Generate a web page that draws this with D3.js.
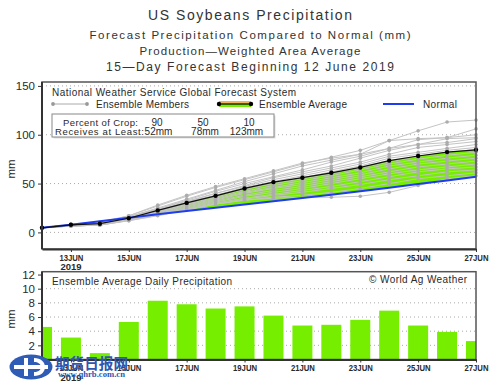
<!DOCTYPE html>
<meta charset="utf-8">
<style>
    html, body { margin:0; padding:0; overflow:hidden; background:#fff; }
    text { font-family: "Liberation Sans", "DejaVu Sans", sans-serif; fill:#2a2a2a; }
    .grid line { stroke:#aaa; stroke-dasharray:1,3; }
    .axis path, .axis line { stroke:#333; }
    .axis text { font-size:11.5px; fill:#2a2a2a; }
    .xaxis text { font-size:9.5px; font-weight:bold; }
</style>
<svg id="mainsvg" width="500" height="389"></svg>
<script src="https://cdnjs.cloudflare.com/ajax/libs/d3/7.8.5/d3.min.js"></script>
<script>

/* -- data -- */

var days = ["2019-06-12","2019-06-13","2019-06-14","2019-06-15","2019-06-16","2019-06-17","2019-06-18","2019-06-19",
            "2019-06-20","2019-06-21","2019-06-22","2019-06-23","2019-06-24","2019-06-25","2019-06-26","2019-06-27"];

var ensembleAvg = [4.7, 7.8, 8.9, 14.5, 22.5, 30.2, 37.4, 45.0, 51.5, 56.0, 61.0, 66.5, 73.5, 78.2, 82.2, 84.5];
var normal      = [4.7, 7.8, 11.3, 15.0, 18.5, 22.0, 25.3, 28.6, 31.9, 35.2, 38.5, 42.1, 45.8, 49.5, 53.2, 57.0];
var dailyAvg    = [4.6, 3.1, 0.9, 5.3, 8.3, 7.8, 7.2, 7.5, 6.2, 4.8, 4.9, 5.6, 6.9, 4.8, 3.9, 2.6];

var members = [
    [4.7, 8.5, 10.5, 17, 27, 37, 46, 54, 62, 70, 77, 84, 94, 104, 113, 115],
    [4.7, 8.0, 10.0, 17, 28, 38, 47, 55, 63, 71, 76, 80, 86, 95, 97, 106],
    [4.7, 8.0, 10.0, 16, 25, 34, 43, 52, 60, 68, 74, 80, 94, 96, 97, 100],
    [4.7, 7.5, 9.5, 16, 24, 33, 42, 50, 57, 64, 72, 78, 86, 90, 96, 97],
    [4.7, 8.0, 9.0, 15.5, 24, 32, 40, 48, 56, 62, 68, 76, 84, 90, 92, 96],
    [4.7, 7.5, 9.0, 15, 23, 31, 40, 47, 54, 60, 66, 72, 80, 87, 90, 93],
    [4.7, 7.5, 9.0, 15, 22, 31, 38, 46, 52, 58, 64, 70, 78, 82, 86, 90],
    [4.7, 7.0, 8.5, 14, 22, 30, 38, 45, 51, 56, 62, 68, 76, 80, 84, 87],
    [4.7, 7.0, 8.5, 14, 21, 29, 36, 44, 50, 55, 60, 66, 72, 78, 82, 85],
    [4.7, 7.0, 8.5, 14, 21, 29, 35, 42, 48, 53, 58, 64, 70, 75, 79, 82],
    [4.7, 7.0, 8.0, 13.5, 20, 28, 34, 41, 46, 51, 56, 61, 68, 72, 76, 79],
    [4.7, 7.0, 8.0, 13, 20, 27, 33, 40, 45, 49, 54, 59, 65, 70, 73, 76],
    [4.7, 6.5, 8.0, 13, 19, 26, 32, 38, 43, 47, 52, 57, 62, 67, 70, 73],
    [4.7, 6.5, 7.5, 13, 19, 25, 31, 37, 41, 45, 50, 55, 60, 64, 67, 70],
    [4.7, 6.5, 7.5, 12.5, 18, 24, 30, 35, 39, 43, 47, 52, 57, 62, 65, 67],
    [4.7, 6.5, 7.5, 12.5, 18, 24, 29, 34, 38, 41, 45, 49, 54, 58, 62, 64],
    [4.7, 6.5, 7.5, 12, 17.5, 23, 29, 33, 36, 38, 41, 45, 50, 55, 58, 61],
    [4.7, 6.5, 7.5, 12, 17, 23, 29, 33, 35, 36, 36, 37, 41, 48, 55, 58]
];

var topTicks = [0, 50, 100, 150];
var botTicks = [0, 2, 4, 6, 8, 10, 12];
var xTickDays = ["2019-06-13","2019-06-15","2019-06-17","2019-06-19","2019-06-21","2019-06-23","2019-06-25","2019-06-27"];

var titleLines = ["US Soybeans Precipitation",
                  "Forecast Precipitation Compared to Normal (mm)",
                  "Production\u2014Weighted Area Average",
                  "15\u2014Day Forecast Beginning 12 June 2019"];

var cropPct  = ["90", "50", "10"];
var cropRecv = ["52mm", "78mm", "123mm"];

/* -- */

var green = "#76ee00";
var parse = d3.timeParse("%Y-%m-%d");
var dates = days.map(parse);

var svg = d3.select("#mainsvg");

var x = d3.scaleTime()
            .domain([dates[0], dates[dates.length-1]])
            .range([42, 476]);

var yTop = d3.scaleLinear().domain([-17, 154]).range([249, 82]);
var yBot = d3.scaleLinear().domain([0, 12.4]).range([359.5, 271.7]);

function fmtDay(d) { return d3.timeFormat("%d")(d) + "JUN"; }

// titles
var titleY = [20, 39, 55, 71];
var titleW = [204, 321, 221, 288];
var titleS = [14, 11.5, 11.5, 12];
titleLines.forEach(function(t, i) {
    svg.append("text")
        .attr("x", 250 - titleW[i]/2)
        .attr("y", titleY[i])
        .attr("textLength", titleW[i])
        .attr("lengthAdjust", "spacing")
        .style("font-size", titleS[i] + "px")
        .style("fill", "#333")
        .text(t);
});

/* ---- top panel ---- */

var topG = svg.append("g");

topG.append("g").attr("class", "grid")
    .selectAll("line").data(topTicks).enter().append("line")
    .attr("x1", 42).attr("x2", 476)
    .attr("y1", function(d) { return yTop(d); })
    .attr("y2", function(d) { return yTop(d); });

// green area between normal and ensemble average
var area = d3.area()
            .x(function(d, i) { return x(dates[i]); })
            .y0(function(d, i) { return yTop(normal[i]); })
            .y1(function(d, i) { return yTop(Math.max(d, normal[i])); });

topG.append("path")
    .datum(ensembleAvg)
    .attr("d", area)
    .attr("fill", green);

var line = d3.line()
            .x(function(d, i) { return x(dates[i]); })
            .y(function(d) { return yTop(d); });

// ensemble members
var mem = topG.selectAll("g.member").data(members).enter().append("g").attr("class", "member");
mem.append("path")
    .attr("d", line)
    .attr("fill", "none")
    .attr("stroke", "#c4c4c4")
    .attr("stroke-width", 1);
mem.selectAll("circle").data(function(d) { return d; }).enter().append("circle")
    .attr("cx", function(d, i) { return x(dates[i]); })
    .attr("cy", function(d) { return yTop(d); })
    .attr("r", 1.8)
    .attr("fill", "#acacac");

// normal
topG.append("path")
    .datum(normal)
    .attr("d", line)
    .attr("fill", "none")
    .attr("stroke", "#1f3cf0")
    .attr("stroke-width", 2);

// ensemble average
topG.append("path")
    .datum(ensembleAvg)
    .attr("d", line)
    .attr("fill", "none")
    .attr("stroke", "#111")
    .attr("stroke-width", 1.2);
topG.selectAll("circle.avg").data(ensembleAvg).enter().append("circle")
    .attr("class", "avg")
    .attr("cx", function(d, i) { return x(dates[i]); })
    .attr("cy", function(d) { return yTop(d); })
    .attr("r", 2.2)
    .attr("fill", "#000");

// frame + axes
topG.append("rect")
    .attr("x", 42).attr("y", 82).attr("width", 434).attr("height", 167)
    .attr("fill", "none").attr("stroke", "#555").attr("stroke-width", 1.5);

var yAxisTop = d3.axisLeft(yTop).tickValues(topTicks).tickSize(4).tickSizeOuter(0);
topG.append("g").attr("class", "axis")
    .attr("transform", "translate(42,0)")
    .call(yAxisTop)
    .call(function(g) { g.select(".domain").attr("stroke-width", 2).attr("d", "M0,82V249"); });

var xAxisTop = d3.axisBottom(x).tickValues(xTickDays.map(parse)).tickFormat(fmtDay).tickSize(3).tickSizeOuter(0);
topG.append("g").attr("class", "axis xaxis")
    .attr("transform", "translate(0,249)")
    .call(xAxisTop)
    .call(function(g) {
        g.select(".domain").attr("stroke-width", 2);
        g.selectAll(".tick text").attr("dy", "0.62em").attr("textLength", 24).attr("lengthAdjust", "spacingAndGlyphs");
    });

topG.append("text").attr("x", 71).attr("y", 270).attr("text-anchor", "middle")
    .style("font-size", "9.5px").style("font-weight", "bold").text("2019");

topG.append("text")
    .attr("transform", "translate(15,169) rotate(-90)")
    .attr("text-anchor", "middle")
    .style("font-size", "11.5px")
    .text("mm");

// legend
function legText(t, x0, y0, w, sz) {
    return svg.append("text").attr("x", x0).attr("y", y0)
        .attr("textLength", w).attr("lengthAdjust", "spacing")
        .style("font-size", sz + "px").text(t);
}

legText("National Weather Service Global Forecast System", 52, 95.5, 244, 10);

svg.append("line").attr("x1", 53).attr("x2", 87).attr("y1", 104).attr("y2", 104)
    .attr("stroke", "#aaa");
[53, 87].forEach(function(cx) {
    svg.append("circle").attr("cx", cx).attr("cy", 104).attr("r", 1.9).attr("fill", "#999");
});
legText("Ensemble Members", 96, 108, 93, 10);

svg.append("rect").attr("x", 219).attr("y", 101).attr("width", 32).attr("height", 3).attr("fill", "#f2b35e");
svg.append("rect").attr("x", 219).attr("y", 104).attr("width", 32).attr("height", 3).attr("fill", green);
svg.append("line").attr("x1", 219).attr("x2", 251).attr("y1", 104).attr("y2", 104)
    .attr("stroke", "#000").attr("stroke-width", 1.2);
[219, 251].forEach(function(cx) {
    svg.append("circle").attr("cx", cx).attr("cy", 104).attr("r", 2.2).attr("fill", "#000");
});
legText("Ensemble Average", 259, 108, 88, 10);

svg.append("line").attr("x1", 383).attr("x2", 414).attr("y1", 104).attr("y2", 104)
    .attr("stroke", "#1f3cf0").attr("stroke-width", 2);
legText("Normal", 423, 108, 34, 10);

// crop box
svg.append("rect").attr("x", 53.5).attr("y", 115.5).attr("width", 222).attr("height", 23)
    .attr("fill", "#ddd");
svg.append("rect").attr("x", 52).attr("y", 114).attr("width", 222).attr("height", 23)
    .attr("fill", "#fff").attr("stroke", "#888").attr("stroke-width", 1);

legText("Percent of Crop:", 63, 125.5, 75, 9.5);
legText("Receives at Least:", 55, 134.5, 89, 9.5);
var pctX = [157, 203, 249];
var recX = [158.5, 205, 246.5];
svg.selectAll("text.pct").data(cropPct).enter().append("text")
    .attr("class", "pct")
    .attr("x", function(d, i) { return pctX[i]; }).attr("y", 125.5)
    .attr("text-anchor", "middle").style("font-size", "10px")
    .text(function(d) { return d; });
svg.selectAll("text.rec").data(cropRecv).enter().append("text")
    .attr("class", "rec")
    .attr("x", function(d, i) { return recX[i]; }).attr("y", 134.5)
    .attr("text-anchor", "middle").style("font-size", "10px")
    .text(function(d) { return d; });

/* ---- bottom panel ---- */

var botG = svg.append("g");

svg.append("clipPath").attr("id", "botclip")
    .append("rect").attr("x", 42).attr("y", 271.7).attr("width", 434).attr("height", 87.8);

botG.append("g").attr("class", "grid")
    .selectAll("line").data(botTicks.slice(1, 6)).enter().append("line")
    .attr("x1", 42).attr("x2", 476)
    .attr("y1", function(d) { return yBot(d); })
    .attr("y2", function(d) { return yBot(d); });

var barW = 20;
botG.append("g").attr("clip-path", "url(#botclip)")
    .selectAll("rect").data(dailyAvg).enter().append("rect")
    .attr("x", function(d, i) { return x(dates[i]) - barW/2; })
    .attr("y", function(d) { return yBot(d); })
    .attr("width", barW)
    .attr("height", function(d) { return yBot(0) - yBot(d); })
    .attr("fill", green);

botG.append("rect")
    .attr("x", 42).attr("y", 271.7).attr("width", 434).attr("height", 87.8)
    .attr("fill", "none").attr("stroke", "#555").attr("stroke-width", 1.5);

var yAxisBot = d3.axisLeft(yBot).tickValues(botTicks).tickSize(4).tickSizeOuter(0);
botG.append("g").attr("class", "axis")
    .attr("transform", "translate(42,0)")
    .call(yAxisBot)
    .call(function(g) { g.select(".domain").attr("stroke-width", 2).attr("d", "M0,271.7V359.5"); });

var xAxisBot = d3.axisBottom(x).tickValues(xTickDays.map(parse)).tickFormat(fmtDay).tickSize(3).tickSizeOuter(0);
botG.append("g").attr("class", "axis xaxis")
    .attr("transform", "translate(0,359.5)")
    .call(xAxisBot)
    .call(function(g) {
        g.select(".domain").attr("stroke-width", 2);
        g.selectAll(".tick text").attr("dy", "0.62em").attr("textLength", 24).attr("lengthAdjust", "spacingAndGlyphs");
    });

botG.append("text").attr("x", 71).attr("y", 381).attr("text-anchor", "middle")
    .style("font-size", "9.5px").style("font-weight", "bold").text("2019");

botG.append("text")
    .attr("transform", "translate(15,319) rotate(-90)")
    .attr("text-anchor", "middle")
    .style("font-size", "11.5px")
    .text("mm");

legText("Ensemble Average Daily Precipitation", 52, 284.5, 180, 10);
legText("\u00a9 World Ag Weather", 369, 283, 98, 10);

/* ---- site watermark, drawn over the chart as in the picture ---- */

var wm = svg.append("g");
wm.append("ellipse").attr("cx", 31).attr("cy", 367).attr("rx", 21.5).attr("ry", 12.5)
    .attr("fill", "#2f5cb4");
wm.append("path")
    .attr("d", "M14,365 H48 V369 H14 Z M24,358 h4 v18 h-4 Z M34,358 c7,0 11,4 11,9 c0,5 -4,9 -11,9 v-4 c4,0 7,-2 7,-5 c0,-3 -3,-5 -7,-5 Z")
    .attr("fill", "#fff");
wm.append("text").attr("x", 55).attr("y", 369)
    .attr("textLength", 73).attr("lengthAdjust", "spacingAndGlyphs")
    .style("font-family", "'Noto Sans CJK SC', sans-serif")
    .style("font-weight", "bold").style("font-size", "15px")
    .style("fill", "#2f56b0")
    .text("期货日报网");
wm.append("text").attr("x", 58).attr("y", 377)
    .attr("textLength", 67).attr("lengthAdjust", "spacingAndGlyphs")
    .style("font-family", "'Liberation Serif', serif")
    .style("font-weight", "bold").style("font-size", "8.5px")
    .style("fill", "#2f56b0")
    .text("www.qhrb.com.cn");

</script>
